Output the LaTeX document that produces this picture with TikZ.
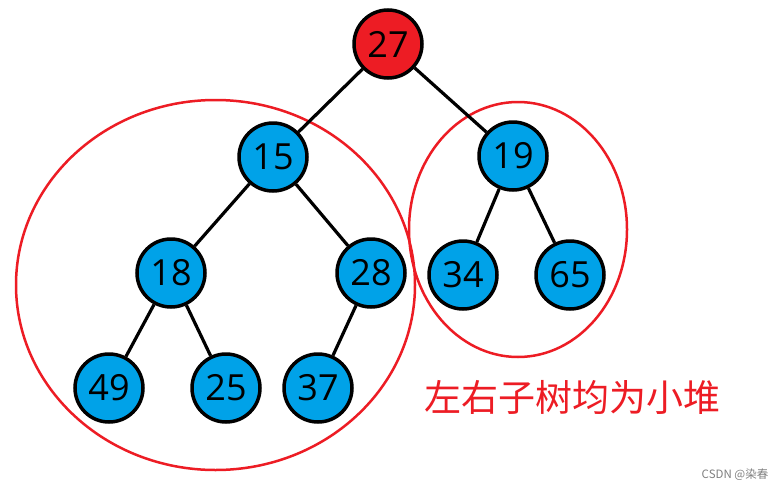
\documentclass[tikz,border=0pt]{standalone}
\usepackage{fontspec}
\setmainfont{Open Sans}
\newfontfamily\cjk{Noto Sans CJK SC}
\definecolor{nodeblue}{RGB}{0,162,232}
\definecolor{heapred}{RGB}{237,28,36}
\begin{document}
\begin{tikzpicture}[x=1pt,y=-1pt,
  tn/.style={circle, draw=black, line width=3.5pt, fill=nodeblue, minimum size=68pt, inner sep=0pt, font=\fontsize{36}{36}\selectfont},
  rootn/.style={tn, fill=heapred},
  edge/.style={line width=3.2pt},
  ring/.style={draw=heapred, line width=2.5pt}]
\useasboundingbox (0,0) rectangle (784,490);
\fill[white] (0,0) rectangle (784,490);
% ellipses
\draw[ring] (215.5,285) ellipse [x radius=199.5, y radius=185];
\draw[ring] (518,229.5) ellipse [x radius=109, y radius=127.5];
% nodes
\node[rootn] (n27) at (388,44) {27};
\node[tn] (n15) at (273,157) {15};
\node[tn] (n19) at (513,156) {19};
\node[tn] (n18) at (171,273) {18};
\node[tn] (n28) at (371,273) {28};
\node[tn] (n34) at (463,275) {34};
\node[tn] (n65) at (570,275) {65};
\node[tn] (n49) at (109,388) {49};
\node[tn] (n25) at (226,388) {25};
\node[tn] (n37) at (318,388) {37};
% edges
\draw[edge] (n27) -- (n15);
\draw[edge] (n27) -- (n19);
\draw[edge] (n15) -- (n18);
\draw[edge] (n15) -- (n28);
\draw[edge] (n19) -- (n34);
\draw[edge] (n19) -- (n65);
\draw[edge] (n18) -- (n49);
\draw[edge] (n18) -- (n25);
\draw[edge] (n28) -- (n37);
% texts
\node[text=heapred, font=\cjk\fontsize{37}{37}\selectfont, inner sep=0pt] (label) at (572.5,397) {左右子树均为小堆};
\node[text=gray, font=\cjk\fontsize{11.5}{12}\selectfont, inner sep=0pt] (mark) at (735,475) {CSDN @染春};
\end{tikzpicture}
\end{document}
